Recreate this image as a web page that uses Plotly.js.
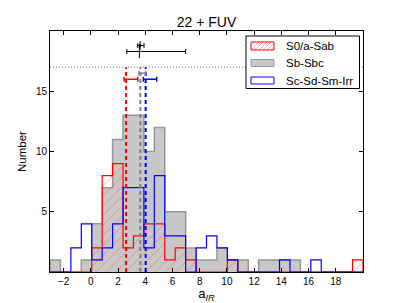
<!DOCTYPE html>
<html>
<head>
<meta charset="utf-8">
<script src="https://cdn.plot.ly/plotly-3.0.1.min.js"></script>
<style>html,body{margin:0;padding:0;background:#fff;}#chart{width:403px;height:303px;}</style>
</head>
<body>
<div id="chart"></div>
<script>
// ---- data ----
const binStart = -3;
const binEnd = 20;
const nBins = 30;
const seriesNames = ['S0/a-Sab', 'Sb-Sbc', 'Sc-Sd-Sm-Irr'];
const countsS0Sab = [0,0,0,0,2,8,9,2,3,4,4,1,2,1,0,0,0,1,0,0,0,0,0,0,0,0,0,0,0,1];
const countsSbSbc = [1,0,0,1,4,7,11,13,13,10,12,5,5,2,1,1,2,1,1,0,1,1,1,1,0,0,0,0,0,0];
const countsScIrr = [0,0,2,4,1,2,4,7,7,2,8,3,3,0,2,3,2,1,0,0,0,0,1,0,0,1,0,0,0,0];
// mean lines (dashed) and their error bars
const meanX = [2.59, 3.64, 4.03];
const meanTop = 17;
const meanErrY = [16, 16.5, 16];
const meanErrLo = [2.44, 3.54, 3.86];
const meanErrHi = [3.45, 4.03, 4.84];
// black points at top
const topX = [3.62, 3.57];
const topY = [18.8, 18.3];
const topXLo = [3.45, 2.64];
const topXHi = [3.91, 6.97];
const topYErr = [0.35, 0.55];
const refLevel = 17;
const xTickVals = [-2,0,2,4,6,8,10,12,14,16,18];
const yTickVals = [5,10,15];

// ---- build ----
const binW = (binEnd - binStart) / nBins;
const edges = [];
for (let i = 0; i <= nBins; i++) edges.push(binStart + i * binW);
function step(counts) {
  const xs = [edges[0]], ys = [0];
  counts.forEach((c, i) => { xs.push(edges[i], edges[i+1]); ys.push(c, c); });
  xs.push(edges[nBins]); ys.push(0);
  return {x: xs, y: ys};
}
const colors = ['#ff0000', '#808080', '#0000ff'];
const sG = step(countsSbSbc), sR = step(countsS0Sab), sB = step(countsScIrr);
const traces = [];
traces.push({type:'scatter', mode:'lines', x:sG.x, y:sG.y, fill:'tozeroy', fillcolor:'rgb(200,200,200)',
  line:{color:'rgb(150,150,150)', width:1.5}, name:seriesNames[1], showlegend:false, hoverinfo:'skip'});
traces.push({type:'scatter', mode:'lines', x:sR.x, y:sR.y, fill:'tozeroy', fillcolor:'rgba(0,0,0,0)',
  fillpattern:{shape:'/', fgcolor:'rgba(255,90,90,0.6)', bgcolor:'rgba(0,0,0,0)', size:7, solidity:0.13},
  line:{color:'#ff0000', width:1.2}, name:seriesNames[0], showlegend:false, hoverinfo:'skip'});
traces.push({type:'scatter', mode:'lines', x:sB.x, y:sB.y,
  line:{color:'#0000ff', width:1.2}, name:seriesNames[2], showlegend:false, hoverinfo:'skip'});
// mean dashed lines
meanX.forEach((m, i) => {
  traces.push({type:'scatter', mode:'lines', x:[m, m], y:[0, meanTop],
    line:{color:colors[i], width:2, dash:'4px,3px'}, showlegend:false, hoverinfo:'skip'});
});
// mean error bars
meanX.forEach((m, i) => {
  traces.push({type:'scatter', mode:'markers', x:[m], y:[meanErrY[i]], marker:{size:1, opacity:0},
    error_x:{type:'data', symmetric:false, array:[meanErrHi[i]-m], arrayminus:[m-meanErrLo[i]],
      color:colors[i], thickness:1.5, width:2.5},
    showlegend:false, hoverinfo:'skip'});
});
// top black points
topX.forEach((x, i) => {
  traces.push({type:'scatter', mode:'markers', x:[x], y:[topY[i]],
    marker:{size: i === 0 ? 3 : 1, color:'#000', opacity: i === 0 ? 1 : 0},
    error_x:{type:'data', symmetric:false, array:[topXHi[i]-x], arrayminus:[x-topXLo[i]], color:'#000', thickness:1, width:2.5},
    error_y:{type:'data', array:[topYErr[i]], color:'#000', thickness:1, width:0},
    showlegend:false, hoverinfo:'skip'});
});

// ---- manual legend (paper coords from pixel positions) ----
const L = 50, T = 31, PW = 313, PH = 241;
const px = v => (v - L) / PW;
const py = v => (T + PH - v) / PH;
const shapes = [
  {type:'line', xref:'paper', yref:'y', x0:0, x1:1, y0:refLevel, y1:refLevel, line:{color:'#777', width:1, dash:'1px,2px'}},
  {type:'rect', xref:'paper', yref:'paper', x0:px(246), x1:px(359.5), y0:py(88.5), y1:py(36), line:{color:'#000', width:1}, fillcolor:'#fff'}
];
const swX0 = 251, swX1 = 274;
const swY = [[42, 50], [59.5, 66.5], [77, 84]];
// hatch in red swatch
let hp = '';
for (let k = -8; k < 24; k += 4) {
  let xa = swX0 + k, ya = swY[0][1], xb = swX0 + k + 8, yb = swY[0][0];
  if (xa < swX0) { ya = ya - (swX0 - xa); xa = swX0; }
  if (xb > swX1) { yb = yb + (xb - swX1); xb = swX1; }
  if (xb <= xa) continue;
  hp += `M${px(xa)},${py(ya)}L${px(xb)},${py(yb)}`;
}
shapes.push({type:'path', xref:'paper', yref:'paper', path:hp, line:{color:'rgba(255,110,110,0.7)', width:0.8}});
shapes.push({type:'rect', xref:'paper', yref:'paper', x0:px(swX0), x1:px(swX1), y0:py(swY[0][1]), y1:py(swY[0][0]), line:{color:'#ff0000', width:1}});
shapes.push({type:'rect', xref:'paper', yref:'paper', x0:px(swX0), x1:px(swX1), y0:py(swY[1][1]), y1:py(swY[1][0]), line:{color:'rgb(150,150,150)', width:1}, fillcolor:'rgb(200,200,200)'});
shapes.push({type:'rect', xref:'paper', yref:'paper', x0:px(swX0), x1:px(swX1), y0:py(swY[2][1]), y1:py(swY[2][0]), line:{color:'#0000ff', width:1}});
const annotations = seriesNames.map((n, i) => ({
  xref:'paper', yref:'paper', x:px(284), y:py((swY[i][0]+swY[i][1])/2), text:n, showarrow:false,
  xanchor:'left', yanchor:'middle', font:{size:11.5, color:'#000'}
}));

const axisCommon = {showline:true, linecolor:'#000', linewidth:1, mirror:'allticks', ticks:'inside', ticklen:4,
  tickcolor:'#000', tickwidth:1, showgrid:false, zeroline:false, tickfont:{size:10, color:'#000'}, automargin:false};
const layout = {
  width:403, height:303,
  margin:{l:L, r:403 - L - PW, t:T, b:303 - T - PH, pad:0},
  paper_bgcolor:'#fff', plot_bgcolor:'#fff',
  font:{family:'Liberation Sans, Arial, sans-serif', color:'#000'},
  title:{text:'22 + FUV', font:{size:14, color:'#000'}, xref:'paper', x:0.5, yref:'container', y:1 - 22.5/303, yanchor:'middle'},
  xaxis:Object.assign({}, axisCommon, {range:[binStart, binEnd], tickvals:xTickVals,
    title:{text:'a<sub><i>IR</i></sub>', font:{size:13}, standoff:3}}),
  yaxis:Object.assign({}, axisCommon, {range:[0, 20], tickvals:yTickVals,
    title:{text:'Number', font:{size:11.5}, standoff:6}}),
  shapes:shapes, annotations:annotations, showlegend:false
};
Plotly.newPlot('chart', traces, layout, {displayModeBar:false, staticPlot:true});
</script>
</body>
</html>
